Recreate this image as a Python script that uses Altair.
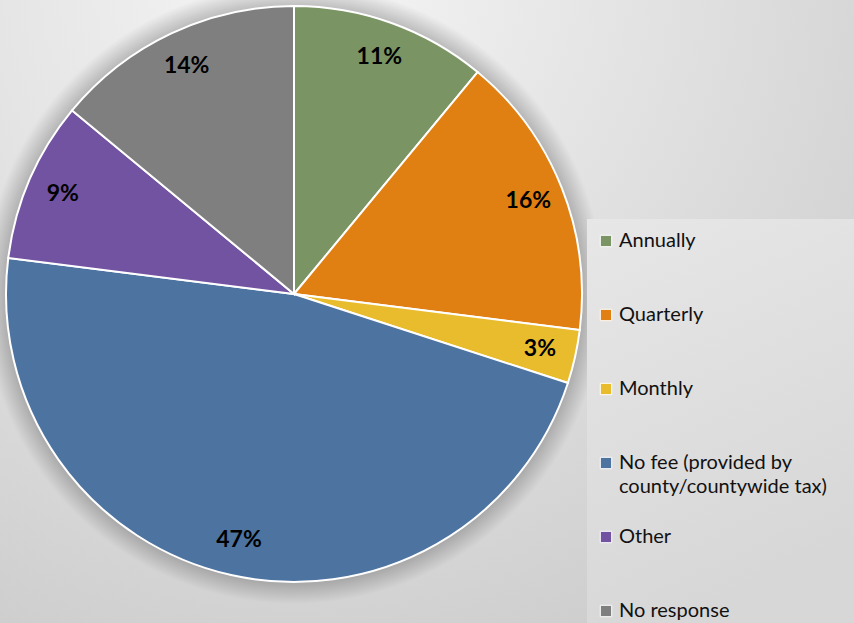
import altair as alt
import pandas as pd

# ---- data ----
categories = ["Annually", "Quarterly", "Monthly",
              "No fee (provided by county/countywide tax)", "Other", "No response"]
values = [11, 16, 3, 47, 9, 14]          # percent
label_texts = ["11%", "16%", "3%", "47%", "9%", "14%"]
legend_texts = ["Annually", "Quarterly", "Monthly",
                "No fee (provided by\ncounty/countywide tax)", "Other", "No response"]
colors = ["#7A9563", "#E07F12", "#E9BC2D", "#4D73A1", "#7253A1", "#7F7F7F"]

df = pd.DataFrame({
    "category": categories,
    "idx": list(range(len(categories))),
    "value": values,
    "label_text": label_texts,
    "legend_text": legend_texts,
})
one = pd.DataFrame({"v": [1]})

W, H = 854, 623
CX, CY, R = 294, 294, 288
FONT = "Lato"

color_scale = alt.Scale(domain=categories, range=colors)

bg_gradient = {
    "gradient": "radial",
    "x1": 0.35, "y1": 0.1, "r1": 0,
    "x2": 0.35, "y2": 0.1, "r2": 0.95,
    "stops": [
        {"offset": 0, "color": "#f6f6f6"},
        {"offset": 1, "color": "#c9c9c9"},
    ],
}
background = alt.Chart(one).mark_rect(fill=bg_gradient).encode(
    x=alt.value(0), x2=alt.value(W), y=alt.value(0), y2=alt.value(H)
)

shadow_gradient = {
    "gradient": "radial",
    "x1": 0.5, "y1": 0.5, "r1": 0,
    "x2": 0.5, "y2": 0.5, "r2": 0.5,
    "stops": [
        {"offset": 0.9, "color": "rgba(0,0,0,0.26)"},
        {"offset": 0.935, "color": "rgba(0,0,0,0.2)"},
        {"offset": 1, "color": "rgba(0,0,0,0)"},
    ],
}
shadow = alt.Chart(one).mark_arc(
    theta=0, theta2=6.2832, radius=310, fill=shadow_gradient
).encode(x=alt.value(CX), y=alt.value(CY))

panel_gradient = {
    "gradient": "linear",
    "x1": 0, "y1": 0, "x2": 0.3, "y2": 1,
    "stops": [
        {"offset": 0, "color": "#e7e7e7"},
        {"offset": 1, "color": "#d7d7d7"},
    ],
}
panel = alt.Chart(one).mark_rect(fill=panel_gradient).encode(
    x=alt.value(587), x2=alt.value(W), y=alt.value(219), y2=alt.value(H)
)

pie = alt.Chart(df).mark_arc(outerRadius=R, stroke="white", strokeWidth=2).encode(
    theta=alt.Theta("value:Q", stack=True),
    color=alt.Color("category:N", scale=color_scale, legend=None),
    order=alt.Order("idx:Q"),
    x=alt.value(CX), y=alt.value(CY),
)

labels = alt.Chart(df).mark_text(
    radius=252, font=FONT, fontSize=23, fontWeight="bold", color="#000000"
).encode(
    theta=alt.Theta("value:Q", stack=True),
    order=alt.Order("idx:Q"),
    detail="category:N",
    text="label_text:N",
    x=alt.value(CX), y=alt.value(CY),
)

legend_y = alt.Y("category:N", scale=alt.Scale(type="point", domain=categories,
                                                range=[241, 611], padding=0), axis=None)

legend_sym = alt.Chart(df).mark_square(size=130, stroke="white", strokeWidth=1, opacity=1).encode(
    x=alt.value(606), y=legend_y,
    color=alt.Color("category:N", scale=color_scale, legend=None),
)
legend_txt = alt.Chart(df).mark_text(
    align="left", baseline="middle", font=FONT, fontSize=20, color="#111111",
    lineBreak="\n", lineHeight=24
).encode(x=alt.value(619), y=legend_y, text="legend_text:N")

chart = alt.layer(background, shadow, panel, pie, labels, legend_sym, legend_txt).properties(
    width=W, height=H, padding=0, autosize=alt.AutoSizeParams(type="none")
).configure_view(strokeWidth=0).configure(background="#dddddd")

chart.save("out.html", embed_options={"renderer": "svg", "actions": False})
